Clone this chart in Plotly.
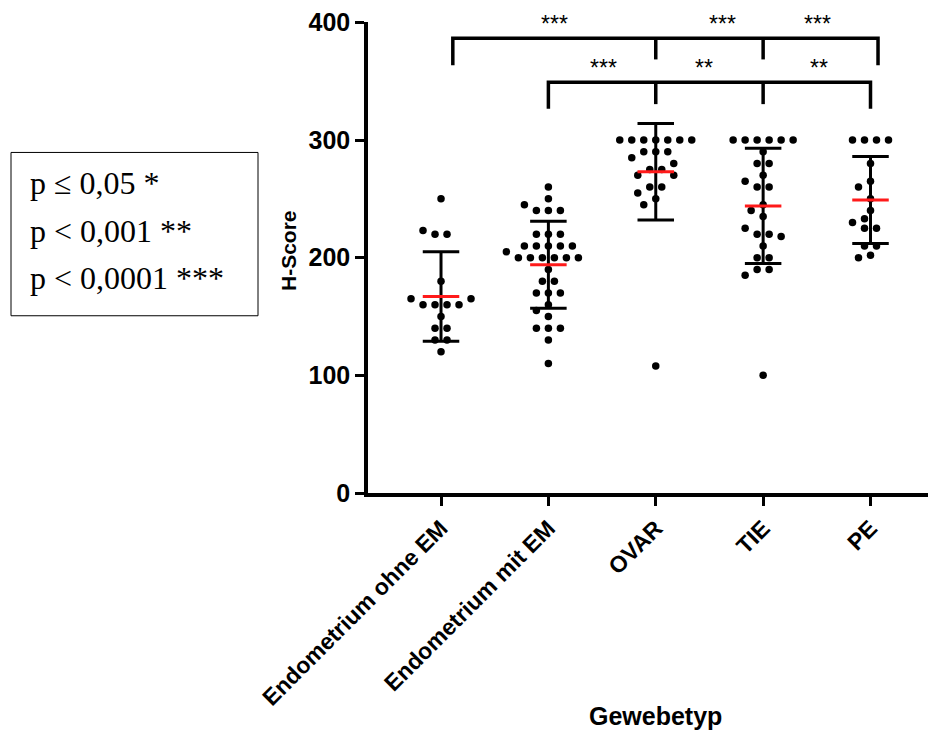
import plotly.graph_objects as go
from collections import Counter

# ---------------- data ----------------
categories = ["Endometrium ohne EM", "Endometrium mit EM", "OVAR", "TIE", "PE"]

endo_ohne = [250, 223, 220, 220, 180, 165, 165, 160, 160, 160, 160, 150, 140, 140, 130, 130, 120]
endo_mit = [260, 250, 245, 240, 240, 240, 220, 220, 220, 210, 210, 210, 210, 210, 205,
            200, 200, 200, 200, 200, 200, 190, 180, 180, 170, 170, 170, 160, 155, 150,
            140, 140, 140, 130, 110]
ovar = [300, 300, 300, 300, 300, 300, 300, 290, 290, 290, 285, 280, 275, 275, 270, 270,
        260, 260, 255, 250, 245, 108]
tie = [300, 300, 300, 300, 300, 300, 290, 280, 280, 270, 265, 260, 260, 245, 240, 235,
       225, 220, 220, 218, 210, 200, 200, 190, 190, 185, 100]
pe = [300, 300, 300, 300, 280, 265, 260, 250, 240, 233, 230, 225, 225, 210, 210, 202, 200]

means = [167, 194, 273, 244, 249]
sds = [38, 37, 41, 49, 37]

y_ticks = [0, 100, 200, 300, 400]

top_stars = ["***", "***", "***"]
bottom_stars = ["***", "**", "**"]
legend_lines = ["p \u2264 0,05 *", "p < 0,001 **", "p < 0,0001 ***"]

# ---------------- layout geometry ----------------
OFF = 8                      # default page margin of the html body
W, H = 936 - OFF, 746 - OFF
ML, MR, MT, MB = 368 - OFF, 0, 20 - OFF, 746 - 493
XMIN, XMAX = -0.68, 4.61
YMIN, YMAX = 0, 400.3
PW, PH = W - ML - MR, H - MT - MB
XPX = PW / (XMAX - XMIN)     # px per category unit
YPX = PH / (YMAX - YMIN)     # px per H-score unit


def swarm(vals, step_px=12, d_px=8.5):
    cnt = Counter(vals)
    order = sorted(cnt.items(), key=lambda kv: (-kv[1], -kv[0]))
    cands = sorted([k * step_px / 2 for k in range(-24, 25)], key=lambda c: (abs(c), c))
    placed, out_x, out_y = [], [], []
    for v, k in order:
        y = v * YPX
        ideals = sorted([(i - (k - 1) / 2) * step_px for i in range(k)], key=lambda c: (abs(c), c))
        for ideal in ideals:
            free = [c for c in cands
                    if all((c - px) ** 2 + (y - py) ** 2 >= d_px ** 2 for px, py in placed)]
            best = min(free, key=lambda c: (abs(c - ideal), abs(c)))
            placed.append((best, y))
            out_x.append(best / XPX)
            out_y.append(v)
    return out_x, out_y


groups = [endo_ohne, endo_mit, ovar, tie, pe]
fig = go.Figure()

CAP = 0.17
for i, (m, s) in enumerate(zip(means, sds)):
    fig.add_trace(go.Scatter(
        x=[i, i, None, i - CAP, i + CAP, None, i - CAP, i + CAP],
        y=[m - s, m + s, None, m + s, m + s, None, m - s, m - s],
        mode="lines", line=dict(color="black", width=3), hoverinfo="skip", showlegend=False))

for i, g in enumerate(groups):
    dx, yy = swarm(g)
    fig.add_trace(go.Scatter(
        x=[i + d for d in dx], y=yy, mode="markers",
        marker=dict(color="black", size=7.5, line=dict(width=0)),
        showlegend=False, name=categories[i]))

for i, m in enumerate(means):
    fig.add_trace(go.Scatter(
        x=[i - CAP, i + CAP], y=[m, m], mode="lines",
        line=dict(color="#ff1a1a", width=3), hoverinfo="skip", showlegend=False))

# significance brackets
BR_W = 3.5
top_y, top_drop_end, top_mid_end = 386.5, 363.5, 368.5
bot_y, bot_drop_end, bot_mid_end = 349, 326.5, 330.5
fig.add_trace(go.Scatter(
    x=[0.11, 0.11, 4.07, 4.07, None, 2, 2, None, 3, 3],
    y=[top_drop_end, top_y, top_y, top_drop_end, None, top_y, top_mid_end, None, top_y, top_mid_end],
    mode="lines", line=dict(color="black", width=BR_W), hoverinfo="skip", showlegend=False))
fig.add_trace(go.Scatter(
    x=[1, 1, 4, 4, None, 2, 2, None, 3, 3],
    y=[bot_drop_end, bot_y, bot_y, bot_drop_end, None, bot_y, bot_mid_end, None, bot_y, bot_mid_end],
    mode="lines", line=dict(color="black", width=BR_W), hoverinfo="skip", showlegend=False))

star_font = dict(family="Liberation Sans", size=23, color="black")
for xs, lab in zip([1.06, 2.62, 3.51], top_stars):
    fig.add_annotation(x=xs, y=399, text=lab, showarrow=False, font=star_font,
                       xanchor="center", yanchor="middle")
for xs, lab in zip([1.51, 2.45, 3.52], bottom_stars):
    fig.add_annotation(x=xs, y=361, text=lab, showarrow=False, font=star_font,
                       xanchor="center", yanchor="middle")


def px_to_paper(px, py):
    # px, py are screen coordinates of the reference picture
    return (px - OFF - ML) / PW, (H - MB - (py - OFF)) / PH


# legend box
x0, y0 = px_to_paper(11, 315)
x1, y1 = px_to_paper(258, 151)
fig.add_shape(type="rect", xref="paper", yref="paper", x0=x0, y0=y0, x1=x1, y1=y1,
              line=dict(color="black", width=1), fillcolor="rgba(0,0,0,0)")
for line, py in zip(legend_lines, [182, 230, 277]):
    lx, ly = px_to_paper(28, py)
    fig.add_annotation(xref="paper", yref="paper", x=lx, y=ly, text=line, showarrow=False,
                       xanchor="left", yanchor="middle",
                       font=dict(family="Liberation Serif", size=32, color="black"))

# axis titles
tx, ty = px_to_paper(655, 717)
fig.add_annotation(xref="paper", yref="paper", x=tx, y=ty, text="<b>Gewebetyp</b>", showarrow=False,
                   xanchor="center", yanchor="middle",
                   font=dict(family="Liberation Sans", size=25, color="black"))
hx, hy = px_to_paper(288, 250)
fig.add_annotation(xref="paper", yref="paper", x=hx, y=hy, text="<b>H-Score</b>", showarrow=False,
                   xanchor="center", yanchor="middle", textangle=-90,
                   font=dict(family="Liberation Sans", size=21, color="black"))

fig.update_layout(
    width=W, height=H,
    margin=dict(l=ML, r=MR, t=MT, b=MB, pad=0),
    plot_bgcolor="white", paper_bgcolor="white",
    showlegend=False,
    xaxis=dict(
        range=[XMIN, XMAX], tickmode="array", tickvals=list(range(5)), ticktext=categories,
        tickangle=-45, ticks="outside", ticklen=9, tickwidth=3, tickcolor="black",
        showline=True, linewidth=3.5, linecolor="black", showgrid=False, zeroline=False,
        tickfont=dict(family="Liberation Sans", size=23, color="black", weight="bold"),
    ),
    yaxis=dict(
        range=[YMIN, YMAX], tickmode="array", tickvals=y_ticks, ticktext=[str(t) for t in y_ticks],
        ticks="outside", ticklen=9, tickwidth=3, tickcolor="black", ticklabeloverflow="allow",
        showline=True, linewidth=3.5, linecolor="black", showgrid=False, zeroline=False,
        tickfont=dict(family="Liberation Sans", size=25, color="black", weight="bold"),
    ),
)

fig.write_html("out.html")
